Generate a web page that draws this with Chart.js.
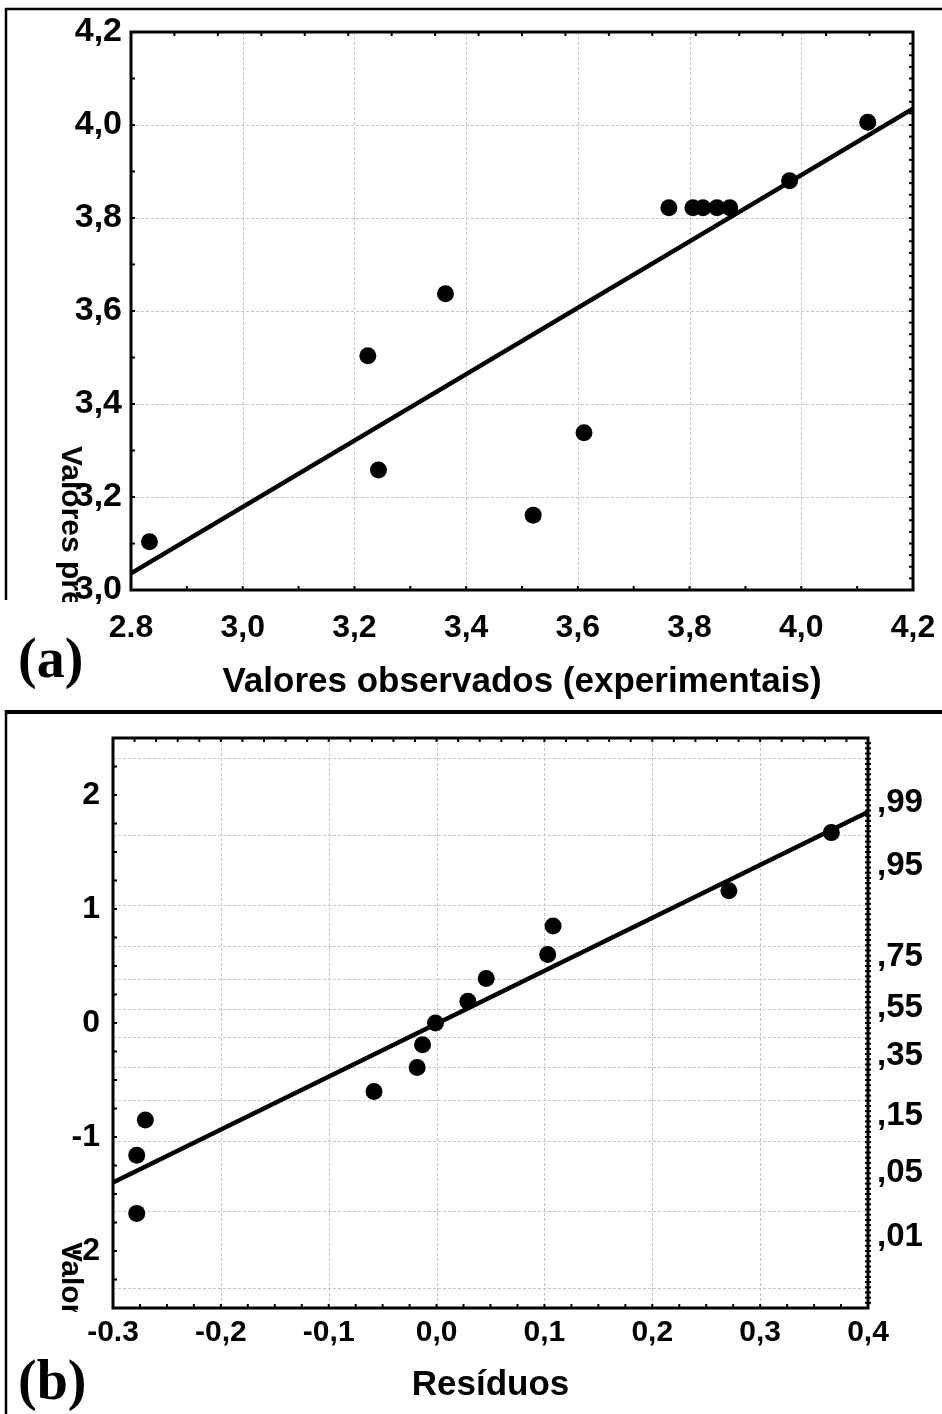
<!DOCTYPE html>
<html>
<head>
<meta charset="utf-8">
<script src="https://cdn.jsdelivr.net/npm/chart.js@4.4.0/dist/chart.umd.min.js"></script>
<style>
  html, body { margin: 0; padding: 0; background: #fff; }
  #page { position: relative; width: 942px; height: 1414px; overflow: hidden; background: #fff; }
  .panel { position: absolute; left: 0; }
  canvas { display: block; }
</style>
</head>
<body>
<div id="page">
  <div class="panel" style="top:0;width:942px;height:700px"><canvas id="chartA" width="942" height="700"></canvas></div>
  <div class="panel" style="top:700px;width:942px;height:714px"><canvas id="chartB" width="942" height="714"></canvas></div>
</div>
<script>
// ---- (a) observed vs predicted values ----
const observedA  = [2.833, 3.224, 3.243, 3.363, 3.520, 3.611, 3.763, 3.806, 3.824, 3.849, 3.872, 3.979, 4.119];
const predictedA = [3.104, 3.504, 3.258, 3.637, 3.161, 3.338, 3.822, 3.822, 3.822, 3.822, 3.822, 3.880, 4.006];
const fitXA = [2.8, 4.2];
const fitYA = [3.036, 4.035];
const xTicksA = [2.8, 3.0, 3.2, 3.4, 3.6, 3.8, 4.0, 4.2];
const xTickLabelsA = ['2.8', '3,0', '3,2', '3,4', '3,6', '3,8', '4,0', '4,2'];
const yTicksA = [3.0, 3.2, 3.4, 3.6, 3.8, 4.0, 4.2];
const yTickLabelsA = ['3,0', '3,2', '3,4', '3,6', '3,8', '4,0', '4,2'];

// ---- (b) normal probability plot of residuals ----
const residualsB = [-0.278, -0.278, -0.270, -0.058, -0.018, -0.013, -0.001, 0.029, 0.046, 0.103, 0.108, 0.271, 0.366];
const expectedB  = [-1.67, -1.16, -0.85, -0.60, -0.39, -0.19, 0.00, 0.19, 0.39, 0.60, 0.85, 1.16, 1.67];
const fitXB = [-0.3, 0.4];
const fitYB = [-1.40, 1.85];
const xTicksB = [-0.3, -0.2, -0.1, 0.0, 0.1, 0.2, 0.3, 0.4];
const xTickLabelsB = ['-0.3', '-0,2', '-0,1', '0,0', '0,1', '0,2', '0,3', '0,4'];
const yTicksB = [-2, -1, 0, 1, 2];
const yTickLabelsB = ['-2', '-1', '0', '1', '2'];
const probTicksB = [-2.326, -1.645, -1.036, -0.385, 0.126, 0.674, 1.645, 2.326];
const probLabelsB = [',01', ',05', ',15', ',35', ',55', ',75', ',95', ',99'];
const probGridB = [-2.326, -1.645, -1.036, -0.674, -0.385, -0.126, 0.126, 0.385, 0.674, 1.036, 1.645, 2.326];

const SANS = "'Liberation Sans', Arial, Helvetica, sans-serif";
const SERIF = "'Liberation Serif', 'Times New Roman', serif";
const boldSans = size => ({ family: SANS, size, weight: 'bold' });

const setTicks = values => scale => { scale.ticks = values.map(v => ({ value: v })); };
// pin an axis box to a fixed size and drop the automatic label overhang padding
const fixWidth = w => scale => { scale.width = w; scale.paddingTop = 0; scale.paddingBottom = 0; };
const fixHeight = h => scale => { scale.height = h; scale.paddingLeft = 0; scale.paddingRight = 0; };

// Frame, dashed grid, minor tick marks, panel box and extra labels
const framePlugin = {
  id: 'frame',
  beforeDatasetsDraw(chart, args, o) {
    const { ctx, chartArea: a, scales } = chart;
    ctx.save();
    ctx.strokeStyle = '#c6c6c6';
    ctx.lineWidth = 1;
    ctx.setLineDash([3, 2]);
    (o.vGrid || []).forEach(v => {
      const x = Math.round(scales.x.getPixelForValue(v)) + 0.5;
      ctx.beginPath(); ctx.moveTo(x, a.top); ctx.lineTo(x, a.bottom); ctx.stroke();
    });
    (o.hGrid || []).forEach(v => {
      const y = Math.round(scales.y.getPixelForValue(v)) + 0.5;
      ctx.beginPath(); ctx.moveTo(a.left, y); ctx.lineTo(a.right, y); ctx.stroke();
    });
    ctx.restore();
  },
  afterDatasetsDraw(chart, args, o) {
    const { ctx, chartArea: a, scales } = chart;
    ctx.save();
    ctx.strokeStyle = '#000';
    ctx.lineWidth = 2;
    (o.minor || []).forEach(m => {
      const s = m.side === 'top' || m.side === 'bottom' ? scales.x : scales.y;
      for (let i = 1; i < m.count; i++) {
        const v = s.min + (s.max - s.min) * i / m.count;
        const p = s.getPixelForValue(v);
        ctx.beginPath();
        if (m.side === 'bottom') { ctx.moveTo(p, a.bottom + (m.out || 0)); ctx.lineTo(p, a.bottom - m.len); }
        if (m.side === 'top') { ctx.moveTo(p, a.top - (m.out || 0)); ctx.lineTo(p, a.top + m.len); }
        if (m.side === 'left') { ctx.moveTo(a.left - (m.out || 0), p); ctx.lineTo(a.left + m.len, p); }
        if (m.side === 'right') { ctx.moveTo(a.right + (m.out || 0), p); ctx.lineTo(a.right - m.len, p); }
        ctx.stroke();
      }
    });
    ctx.lineWidth = 3;
    ctx.strokeRect(a.left, a.top, a.right - a.left, a.bottom - a.top);
    ctx.restore();
  },
  afterDraw(chart, args, o) {
    const { ctx } = chart;
    ctx.save();
    ctx.strokeStyle = '#000';
    (o.rules || []).forEach(r => {
      ctx.lineWidth = r.w;
      ctx.beginPath(); ctx.moveTo(r.x1, r.y1); ctx.lineTo(r.x2, r.y2); ctx.stroke();
    });
    ctx.fillStyle = '#000';
    if (o.sideTitle) {
      const t = o.sideTitle;
      ctx.save();
      ctx.beginPath(); ctx.rect(t.clip[0], t.clip[1], t.clip[2], t.clip[3]); ctx.clip();
      ctx.translate(t.x, t.y);
      ctx.rotate(Math.PI / 2);
      ctx.font = 'bold ' + t.size + 'px ' + SANS;
      ctx.textAlign = 'left';
      ctx.textBaseline = 'middle';
      ctx.fillText(t.text, 0, 0);
      ctx.restore();
    }
    if (o.tag) {
      ctx.font = 'bold ' + o.tag.size + 'px ' + SERIF;
      ctx.textAlign = 'left';
      ctx.textBaseline = 'middle';
      ctx.fillText(o.tag.text, o.tag.x, o.tag.y);
    }
    ctx.restore();
  }
};

const common = {
  responsive: false,
  animation: false,
  events: [],
};

// ---------- Chart (a) ----------
new Chart(document.getElementById('chartA'), {
  type: 'scatter',
  data: {
    datasets: [
      {
        data: fitXA.map((x, i) => ({ x, y: fitYA[i] })),
        showLine: true, borderColor: '#000', borderWidth: 4.5, pointRadius: 0, order: 2
      },
      {
        data: observedA.map((x, i) => ({ x, y: predictedA[i] })),
        backgroundColor: '#000', borderColor: '#000', pointRadius: 8.5, borderWidth: 0, order: 1
      }
    ]
  },
  options: {
    ...common,
    layout: { padding: { left: 0, right: 29, top: 32, bottom: 0 }, autoPadding: false },
    plugins: {
      legend: { display: false },
      tooltip: { enabled: false },
      frame: {
        vGrid: xTicksA.slice(1, -1),
        hGrid: yTicksA.slice(1, -1),
        minor: [
          { side: 'bottom', count: 14, len: 4 },
          { side: 'top', count: 18, len: 4 },
          { side: 'left', count: 12, len: 4 },
          { side: 'right', count: 48, len: 4 }
        ],
        rules: [
          { x1: 5, y1: 9, x2: 942, y2: 9, w: 2.5 },
          { x1: 6, y1: 8, x2: 6, y2: 600, w: 2.5 }
        ],
        sideTitle: { text: 'Valores preditos', x: 70, y: 446, size: 30, clip: [40, 440, 70, 162] },
        tag: { text: '(a)', x: 18, y: 663, size: 56 }
      }
    },
    scales: {
      x: {
        type: 'linear', min: 2.8, max: 4.2,
        afterBuildTicks: setTicks(xTicksA),
        afterFit: fixHeight(110),
        grid: { display: false, drawTicks: false },
        border: { display: false },
        ticks: {
          callback: (v, i) => xTickLabelsA[i], font: boldSans(32), color: '#000',
          padding: 19, autoSkip: false, maxRotation: 0
        },
        title: {
          display: true, text: 'Valores observados (experimentais)',
          font: { ...boldSans(35), lineHeight: 1 }, color: '#000', padding: { top: 0, bottom: 0 }
        }
      },
      y: {
        type: 'linear', min: 3.0, max: 4.2,
        afterBuildTicks: setTicks(yTicksA),
        afterFit: fixWidth(131),
        grid: { display: false, drawTicks: false },
        border: { display: false },
        ticks: {
          callback: (v, i) => yTickLabelsA[i], font: boldSans(34), color: '#000',
          padding: 9, autoSkip: false
        }
      }
    }
  },
  plugins: [framePlugin]
});

// ---------- Chart (b) ----------
new Chart(document.getElementById('chartB'), {
  type: 'scatter',
  data: {
    datasets: [
      {
        data: fitXB.map((x, i) => ({ x, y: fitYB[i] })),
        showLine: true, borderColor: '#000', borderWidth: 4.5, pointRadius: 0, order: 2, yAxisID: 'y'
      },
      {
        data: residualsB.map((x, i) => ({ x, y: expectedB[i] })),
        backgroundColor: '#000', borderColor: '#000', pointRadius: 8.5, borderWidth: 0, order: 1, yAxisID: 'y'
      }
    ]
  },
  options: {
    ...common,
    layout: { padding: { left: 0, right: 0, top: 38, bottom: 0 }, autoPadding: false },
    plugins: {
      legend: { display: false },
      tooltip: { enabled: false },
      frame: {
        vGrid: xTicksB.slice(1, -1),
        hGrid: probGridB,
        minor: [
          { side: 'bottom', count: 28, len: 4 },
          { side: 'top', count: 35, len: 4 },
          { side: 'left', count: 20, len: 4 },
          { side: 'right', count: 110, len: 3, out: 3 }
        ],
        rules: [
          { x1: 5, y1: 12, x2: 942, y2: 12, w: 4 },
          { x1: 6, y1: 10, x2: 6, y2: 714, w: 2.5 }
        ],
        sideTitle: { text: 'Valores normais esperados', x: 70, y: 542, size: 30, clip: [40, 536, 70, 76] },
        tag: { text: '(b)', x: 18, y: 685, size: 56 }
      }
    },
    scales: {
      x: {
        type: 'linear', min: -0.3, max: 0.4,
        afterBuildTicks: setTicks(xTicksB),
        afterFit: fixHeight(106),
        grid: { display: false, drawTicks: false },
        border: { display: false },
        ticks: {
          callback: (v, i) => xTickLabelsB[i], font: boldSans(30), color: '#000',
          padding: 7, autoSkip: false, maxRotation: 0
        },
        title: {
          display: true, text: 'Resíduos',
          font: { ...boldSans(35), lineHeight: 1 }, color: '#000', padding: { top: 0, bottom: 11 }
        }
      },
      y: {
        type: 'linear', position: 'left', min: -2.5, max: 2.5,
        afterBuildTicks: setTicks(yTicksB),
        afterFit: fixWidth(113),
        grid: { display: false, drawTicks: false },
        border: { display: false },
        ticks: {
          callback: (v, i) => yTickLabelsB[i], font: boldSans(32), color: '#000',
          padding: 13, autoSkip: false
        }
      },
      y2: {
        type: 'linear', position: 'right', min: -3.09, max: 3.02,
        afterBuildTicks: setTicks(probTicksB),
        afterFit: fixWidth(74),
        grid: { display: false, drawTicks: false },
        border: { display: false },
        ticks: {
          callback: (v, i) => probLabelsB[i], font: boldSans(33), color: '#000',
          padding: 9, autoSkip: false
        }
      }
    }
  },
  plugins: [framePlugin]
});
</script>
</body>
</html>
